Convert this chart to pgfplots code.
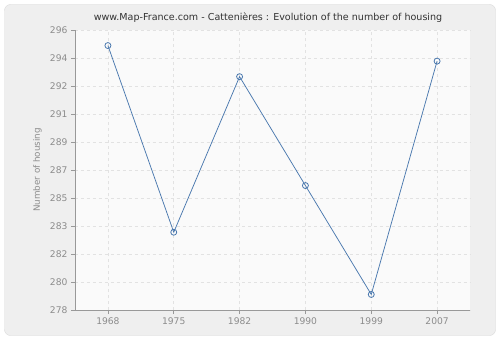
\documentclass[border=0pt]{standalone}
\usepackage{pgfplots}
\pgfplotsset{compat=1.18}
\usepackage{fontspec}
\setmainfont{DejaVu Sans}
\definecolor{bgout}{HTML}{EFEFEF}
\definecolor{frame}{HTML}{DADADA}
\definecolor{plotbg}{HTML}{FAFAFA}
\definecolor{gridc}{HTML}{E2E2E2}
\definecolor{axisc}{HTML}{999999}
\definecolor{textc}{HTML}{8C8C8C}
\definecolor{linec}{HTML}{4A78AE}
\begin{document}
\begin{tikzpicture}[x=1bp,y=1bp]
\fill[white] (0,0) rectangle (500,340);
\draw[frame,fill=bgout,rounded corners=6bp] (4.5,4.5) rectangle (495.5,335.5);
\node[text=black!80, font=\fontsize{9.6}{11}\selectfont] at (268,322) {www.Map-France.com - Cattenières : Evolution of the number of housing};
\begin{axis}[
  at={(75bp,30bp)}, anchor=south west,
  scale only axis, width=395bp, height=280bp,
  xmin=-0.5, xmax=5.5, ymin=278, ymax=296,
  xtick={0,1,2,3,4,5},
  xticklabels={1968,1975,1982,1990,1999,2007},
  ytick={278,279.8,281.6,283.4,285.2,287,288.8,290.6,292.4,294.2,296},
  yticklabels={278,280,282,283,285,287,289,291,292,294,296},
  axis lines*=left,
  axis line style={axisc, line width=0.8pt},
  tick style={axisc, line width=0.8pt},
  tick align=outside,
  major tick length=4bp,
  axis background/.style={fill=plotbg},
  grid=major,
  major grid style={gridc, dashed, line width=0.6pt},
  tick label style={text=textc, font=\fontsize{9.2}{10}\selectfont},
  /pgf/number format/assume math mode=true,
  ylabel={Number of housing},
  ylabel style={text=textc, font=\fontsize{8.8}{10}\selectfont, at={(axis description cs:-0.095,0.5)}, anchor=center},
  clip=false,
]
\addplot[linec, line width=0.75pt, mark=o, mark size=3bp, mark options={fill=white, draw=linec, line width=0.8pt}]
 coordinates {(0,295) (1,283) (2,293) (3,286) (4,279) (5,294)};
\end{axis}
\end{tikzpicture}
\end{document}
